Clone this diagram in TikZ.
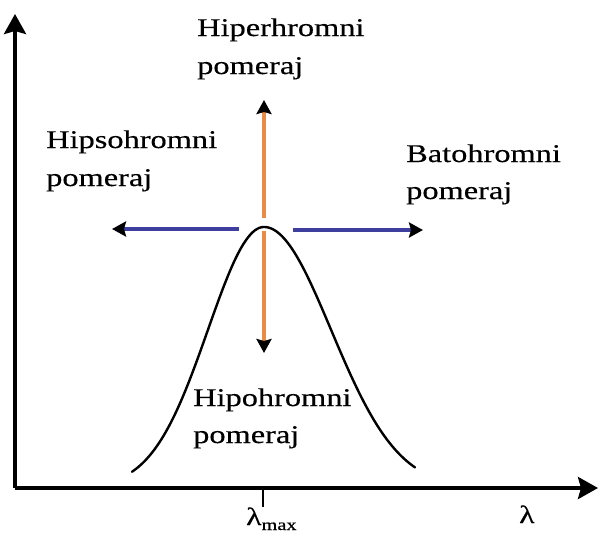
\documentclass[tikz,border=0pt]{standalone}
\usepackage{fontspec}
\setmainfont{Liberation Serif}[FakeStretch=1.27,FakeBold=0.4]
\usetikzlibrary{arrows.meta}
\definecolor{shiftorange}{RGB}{232,140,72}
\definecolor{shiftblue}{RGB}{62,62,158}
\tikzset{
  axisline/.style={line width=3.6pt,-{Stealth[length=20pt,width=22pt,inset=3pt]}},
  shiftarrow/.style={line width=3.6pt,-{Stealth[length=14pt,width=15pt,inset=2pt,color=black]}},
  lbl/.style={anchor=base west,inner sep=0pt,font=\fontsize{25.5}{30}\selectfont},
}
\begin{document}
\begin{tikzpicture}[x=1pt,y=-1pt]
\useasboundingbox (0,0) rectangle (600,539);
% axes
\coordinate (O) at (15,488);
\coordinate (ytip) at (15,14);
\coordinate (xtip) at (598,488);
\draw[axisline] (O) -- (ytip);
\draw[axisline] (O) -- (xtip);
% tick
\coordinate (tickTop) at (263,488);
\coordinate (tickBot) at (263,507);
\draw[line width=1.2pt] (tickTop) -- (tickBot);
% curve
\draw[line width=2.4pt,line cap=round,smooth,samples=60]
  plot[domain=-132:0] ({264+\x},{488-261*exp(-0.5*(\x/56)^2)})
  -- plot[domain=0:151] ({264+\x},{488-261*exp(-0.5*(\x/67)^2)});
% shift arrows
\coordinate (upA) at (264,218);
\coordinate (upB) at (264,100);
\coordinate (dnA) at (264,231);
\coordinate (dnB) at (264,353);
\coordinate (lfA) at (239,229);
\coordinate (lfB) at (112,229);
\coordinate (rtA) at (293,230);
\coordinate (rtB) at (423,230);
\draw[shiftarrow,shiftorange] (upA) -- (upB);
\draw[shiftarrow,shiftorange] (dnA) -- (dnB);
\draw[shiftarrow,shiftblue] (lfA) -- (lfB);
\draw[shiftarrow,shiftblue] (rtA) -- (rtB);
% labels
\node[lbl] (hiper1) at (197,36) {Hiperhromni};
\node[lbl] (hiper2) at (197,74) {pomeraj};
\node[lbl] (hips1) at (46,148) {Hipsohromni};
\node[lbl] (hips2) at (46,186) {pomeraj};
\node[lbl] (bato1) at (406,162) {Batohromni};
\node[lbl] (bato2) at (406,199) {pomeraj};
\node[lbl] (hipo1) at (193,406) {Hipohromni};
\node[lbl] (hipo2) at (193,443) {pomeraj};
\node[anchor=base west,inner sep=0pt,font=\fontsize{25}{28}\selectfont] (lmax) at (246,525)
  {λ\raisebox{-5pt}{\fontsize{16}{18}\selectfont max}};
\node[anchor=base west,inner sep=0pt,font=\fontsize{25}{28}\selectfont] (lam) at (519,523) {λ};
\end{tikzpicture}
\end{document}
